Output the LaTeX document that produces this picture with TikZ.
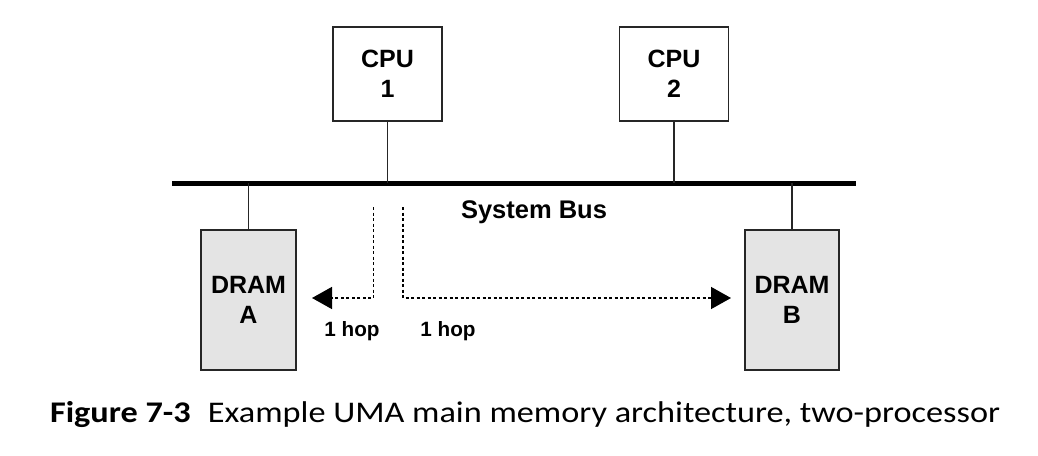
\documentclass[tikz,border=0pt]{standalone}
\usepackage{fontspec}
\setmainfont{Liberation Sans}
\newfontfamily\capfont{Carlito}
\usetikzlibrary{arrows.meta}
\definecolor{dramgray}{HTML}{E4E4E4}
\tikzset{
  box/.style={draw=black!85, line width=1.4pt, align=center, inner sep=0pt,
    font=\fontsize{25}{30}\selectfont\bfseries},
  cpubox/.style={box, minimum width=109pt, minimum height=94pt, fill=white},
  drambox/.style={box, minimum width=95pt, minimum height=140pt, fill=dramgray},
  link/.style={line width=1.4pt, draw=black!85},
  bus/.style={line width=5pt},
  hop/.style={line width=1.5pt, dash pattern=on 3pt off 2.5pt,
    -{Triangle[length=20pt,width=22pt]}},
  lbl/.style={font=\fontsize{20.7}{24}\selectfont\bfseries, inner sep=0pt},
}
\begin{document}
\begin{tikzpicture}[x=1pt,y=-1pt]
\useasboundingbox (0,0) rectangle (1038,455);
\node[cpubox] (cpu1) at (387.5,74) {CPU\\1};
\node[cpubox] (cpu2) at (674,74) {CPU\\2};
\node[drambox] (dramA) at (248.5,300) {DRAM\\A};
\node[drambox, minimum width=94pt] (dramB) at (792,300) {DRAM\\B};
\coordinate (busL) at (172,183);
\coordinate (busR) at (856,183);
\draw[bus] (busL) -- (busR);
\draw[link] (cpu1.south) -- (cpu1.south |- busL);
\draw[link] (cpu2.south) -- (cpu2.south |- busL);
\draw[link] (dramA.north) -- (dramA.north |- busL);
\draw[link] (dramB.north) -- (dramB.north |- busL);
\node[font=\fontsize{25.5}{30}\selectfont\bfseries] (sysbus) at (534,212) {System Bus};
\coordinate (l0) at (373.5,207);
\coordinate (l1) at (373.5,298);
\coordinate (lend) at (312,298);
\coordinate (r0) at (403,207);
\coordinate (r1) at (403,298);
\coordinate (rend) at (731,298);
\draw[hop] (l0) -- (l1) -- (lend);
\draw[hop] (r0) -- (r1) -- (rend);
\node[lbl] (hopA) at (352,331) {1 hop};
\node[lbl] (hopB) at (448,331) {1 hop};
\node[font=\capfont\fontsize{30}{36}\selectfont, anchor=base] (cap) at (525,422)
  {\scalebox{1.142}[1]{\textbf{Figure 7-3}\hspace{0.5em}Example UMA main memory architecture, two-processor}};
\end{tikzpicture}
\end{document}
